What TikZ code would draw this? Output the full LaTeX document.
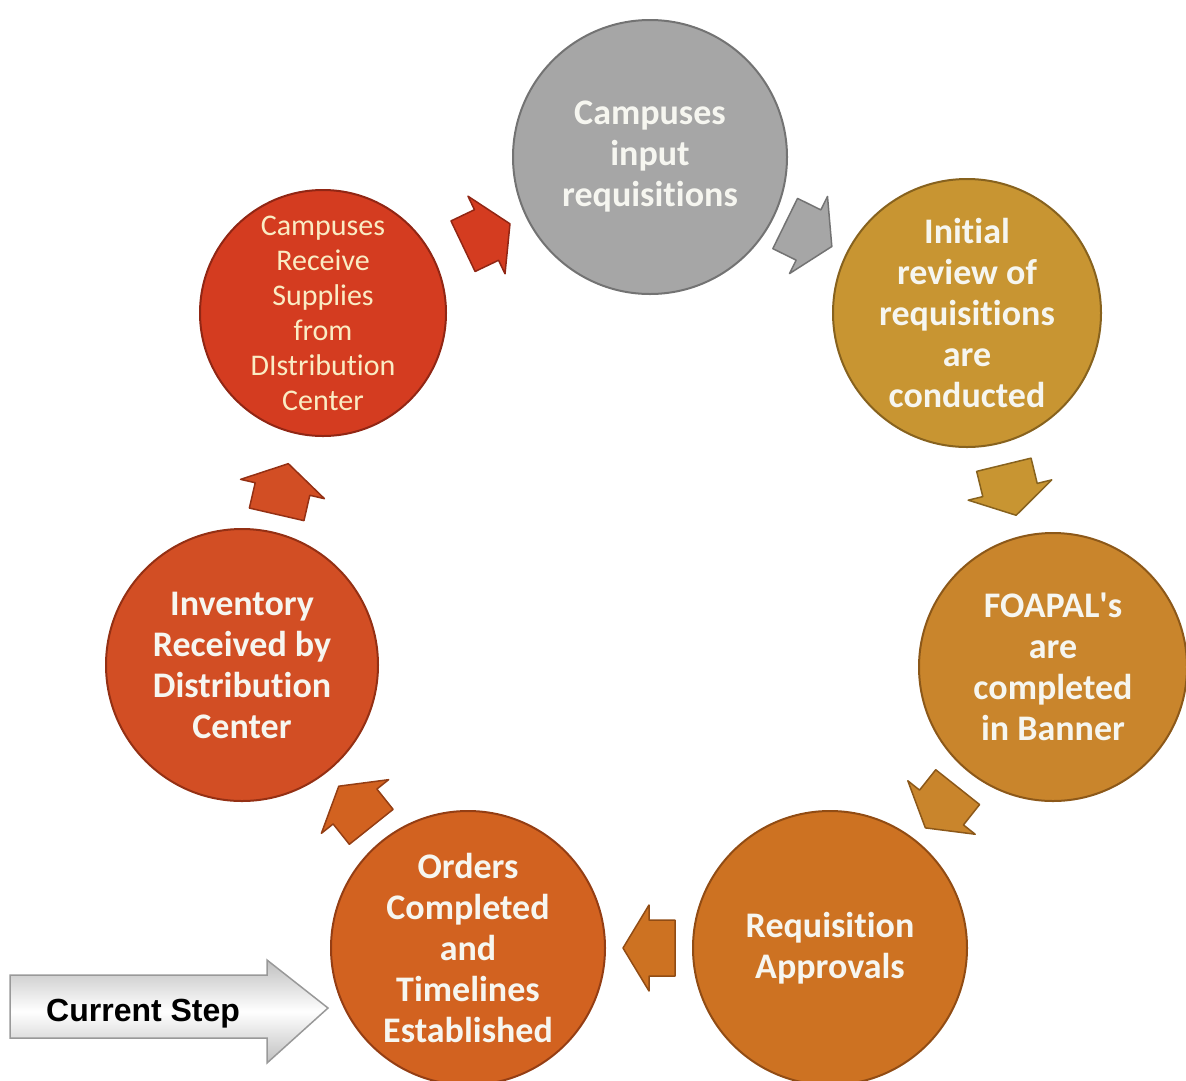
\documentclass[tikz,border=0pt]{standalone}
\usepackage{fontspec}
\setmainfont{Carlito}[Ligatures={NoCommon,NoContextual}]
\newfontfamily\arialfont{Liberation Sans}
\usetikzlibrary{calc}
\newcommand\tisep{\kern0pt }
\definecolor{cA}{RGB}{166,166,166}\definecolor{cAd}{RGB}{115,115,115}
\definecolor{cB}{RGB}{200,149,50}\definecolor{cBd}{RGB}{135,98,30}
\definecolor{cC}{RGB}{201,133,44}\definecolor{cCd}{RGB}{140,88,25}
\definecolor{cD}{RGB}{205,114,34}\definecolor{cDd}{RGB}{145,76,20}
\definecolor{cE}{RGB}{210,98,32}\definecolor{cEd}{RGB}{148,62,20}
\definecolor{cF}{RGB}{210,78,36}\definecolor{cFd}{RGB}{148,48,20}
\definecolor{cG}{RGB}{212,60,32}\definecolor{cGd}{RGB}{145,38,20}
\definecolor{txtW}{RGB}{246,246,240}
\definecolor{txtY}{RGB}{250,236,196}
\tikzset{
  stepcirc/.style={circle,inner sep=0pt,line width=2pt},
  bigtxt/.style={align=center,text=txtW,font=\fontsize{36}{41}\selectfont\bfseries,inner sep=0pt},
  smalltxt/.style={align=center,text=txtY,font=\fontsize{30}{35}\selectfont,inner sep=0pt},
  blockarrow/.pic={\draw[pic actions,line join=round] (-26,-28)--(0,-28)--(0,-43)--(26,0)--(0,43)--(0,28)--(-26,28)--cycle;},
  curstep/.style={draw=black!40,line width=1.5pt,top color=black!25,bottom color=black!25,middle color=white}
}
\newcommand\steparrow[4]{\path let \p1=($(#2)-(#1)$), \n1={atan2(\y1,\x1)} in ($(#1)!0.5!(#2)$) pic[rotate=\n1,fill=#3,draw=#4,line width=1.5pt] {blockarrow};}
\begin{document}
\begin{tikzpicture}[x=1pt,y=-1pt]
\useasboundingbox (0,0) rectangle (1186,1080);
\clip (0,0) rectangle (1186,1080);
\node[stepcirc,fill=cA,draw=cAd,minimum size=274pt] (c1) at (650,157) {};
\node[stepcirc,fill=cB,draw=cBd,minimum size=268pt] (c2) at (967,313) {};
\node[stepcirc,fill=cC,draw=cCd,minimum size=268pt] (c3) at (1053,667) {};
\node[stepcirc,fill=cD,draw=cDd,minimum size=274pt] (c4) at (830,948) {};
\node[stepcirc,fill=cE,draw=cEd,minimum size=274pt] (c5) at (468,948) {};
\node[stepcirc,fill=cF,draw=cFd,minimum size=272pt] (c6) at (242,665) {};
\node[stepcirc,fill=cG,draw=cGd,minimum size=246pt] (c7) at (323,313) {};
\node[bigtxt] (t1) at (c1) {Campuses\\input\\requisit\tisep ions};
\node[bigtxt] (t2) at (c2) {Init\tisep ial\\review of\\requisit\tisep ions\\are\\conducted};
\node[bigtxt] (t3) at (c3) {FOAPAL\textquotesingle s\\are\\completed\\in Banner};
\node[bigtxt] (t4) at (c4) {Requisit\tisep ion\\Approvals};
\node[bigtxt] (t5) at (c5) {Orders\\Completed\\and\\Timelines\\Established};
\node[bigtxt] (t6) at (c6) {Inventory\\Received by\\Distribut\tisep ion\\Center};
\node[smalltxt] (t7) at (c7) {Campuses\\Receive\\Supplies\\from\\DIstribut\tisep ion\\Center};
\steparrow{c1}{c2}{cA}{cAd}
\steparrow{c2}{c3}{cB}{cBd}
\steparrow{c3}{c4}{cC}{cCd}
\steparrow{c4}{c5}{cD}{cDd}
\steparrow{c5}{c6}{cE}{cEd}
\steparrow{c6}{c7}{cF}{cFd}
\steparrow{c7}{c1}{cG}{cGd}
\coordinate (cstip) at (328,1008);
\draw[curstep] (10,975) -- (267,975) -- (267,960) -- (cstip) -- (267,1063) -- (267,1038) -- (10,1038) -- cycle;
\node[anchor=base west,inner sep=0pt,font=\arialfont\bfseries\fontsize{32}{40}\selectfont] (cs) at (46,1021) {Current Step};
\end{tikzpicture}
\end{document}
